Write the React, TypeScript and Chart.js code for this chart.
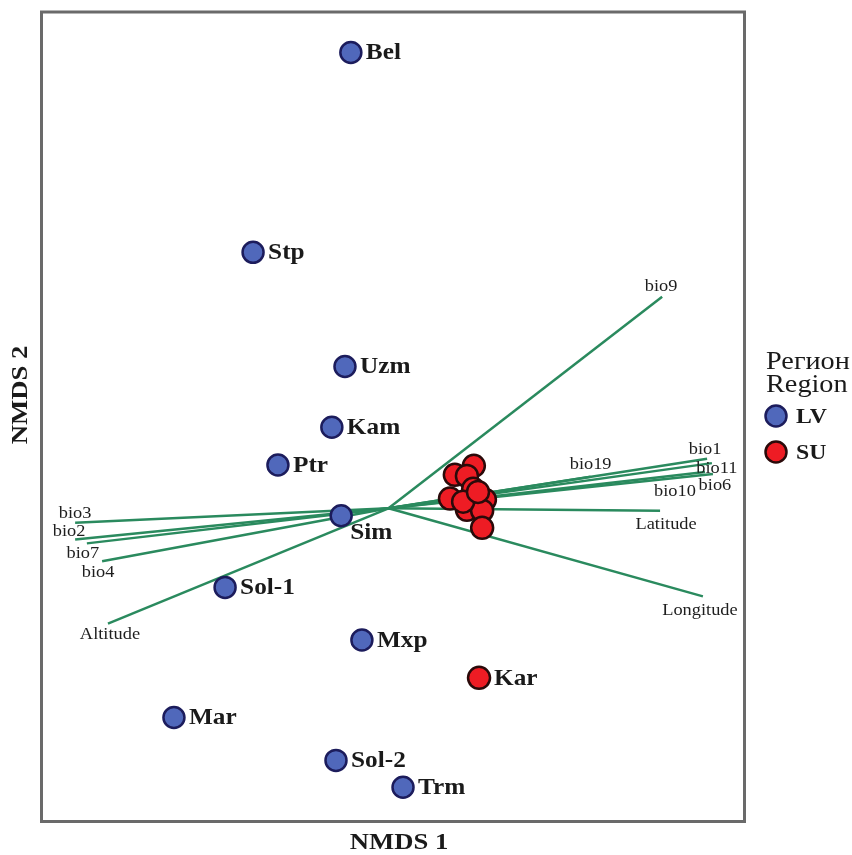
import React, { useEffect, useRef } from "react";
import { Chart, registerables } from "chart.js";

Chart.register(...registerables);

// Sites (NMDS scores)
const lvNames = ["Bel", "Stp", "Uzm", "Kam", "Ptr", "Sim", "Sol-1", "Mxp", "Mar", "Sol-2", "Trm"];
const lvX = [-0.109, -0.392, -0.126, -0.164, -0.32, -0.137, -0.473, -0.077, -0.621, -0.152, 0.042];
const lvY = [1.17, 0.657, 0.364, 0.208, 0.111, -0.019, -0.203, -0.338, -0.537, -0.647, -0.716];

const suNames = ["", "", "", "", "", "", "", "", "", "", "", "Kar"];
const suX = [0.192, 0.247, 0.227, 0.245, 0.178, 0.279, 0.227, 0.271, 0.271, 0.216, 0.259, 0.262];
const suY = [0.086, 0.109, 0.083, 0.05, 0.025, 0.022, -0.004, -0.006, -0.05, 0.017, 0.042, -0.435];

// Environmental vectors (envfit)
const vecNames = ["bio9", "bio1", "bio11", "bio6", "bio10", "bio19", "Latitude", "Longitude", "bio3", "bio2", "bio7", "bio4", "Altitude"];
const vecX = [0.792, 0.922, 0.936, 0.939, 0.916, 0.585, 0.786, 0.91, -0.907, -0.907, -0.873, -0.829, -0.812];
const vecY = [0.543, 0.127, 0.116, 0.088, 0.093, 0.081, -0.006, -0.226, -0.037, -0.08, -0.09, -0.136, -0.296];

const legendTitle = ["Регион", "Region"];
const groupNames = ["LV", "SU"];

// label placement offsets (px), styling only
const vecLabelOffset: Record<string, [number, number]> = {
  bio9: [-1, -10], bio1: [-2, -9], bio11: [5, 5], bio6: [2, 12], bio10: [-30, 19], bio19: [0, -12],
  Latitude: [6, 14], Longitude: [-3, 14], bio3: [0, -9], bio2: [-6, -8], bio7: [-4, 10], bio4: [-4, 11], Altitude: [2, 11],
};
const siteLabelOffset: Record<string, [number, number]> = { Sim: [9, 17] };

const BLUE = "#5068bb";
const BLUE_B = "#1c1c5c";
const RED = "#ee1c24";
const RED_B = "#2a0a0a";
const GREEN = "#2a8a5e";
const SERIF = "'Liberation Serif', 'Times New Roman', serif";

function text(ctx: CanvasRenderingContext2D, s: string, x: number, y: number, sx: number) {
  ctx.save();
  ctx.translate(x, y);
  ctx.scale(sx, 1);
  ctx.fillText(s, 0, 0);
  ctx.restore();
}

export default function App() {
  const ref = useRef<HTMLCanvasElement>(null);
  useEffect(() => {
    if (!ref.current) return;
    const vecDatasets = vecNames.map((n, i) => ({
      type: "line" as const,
      label: n,
      data: [{ x: 0, y: 0 }, { x: vecX[i], y: vecY[i] }],
      borderColor: GREEN,
      borderWidth: 2.5,
      pointRadius: 0,
      showLine: true,
      order: 3,
    }));
    const lvData = lvX.map((x, i) => ({ x, y: lvY[i] }));
    const suData = suX.map((x, i) => ({ x, y: suY[i] }));

    const overlay = {
      id: "overlay",
      beforeDraw(chart: any) {
        const { ctx } = chart;
        ctx.save();
        ctx.fillStyle = "#fff";
        ctx.fillRect(0, 0, chart.width, chart.height);
        ctx.restore();
      },
      afterDraw(chart: any) {
        const { ctx, chartArea: a, scales } = chart;
        const xs = scales.x, ys = scales.y;
        ctx.save();
        // frame
        ctx.strokeStyle = "#6a6a6a";
        ctx.lineWidth = 3;
        ctx.strokeRect(a.left - 1.5, a.top - 1.5, a.right - a.left + 3, a.bottom - a.top + 3);
        // vector labels
        ctx.fillStyle = "#1e1e1e";
        ctx.font = `17px ${SERIF}`;
        ctx.textAlign = "center";
        ctx.textBaseline = "middle";
        vecNames.forEach((n, i) => {
          const o = vecLabelOffset[n] || [0, 0];
          text(ctx, n, xs.getPixelForValue(vecX[i]) + o[0], ys.getPixelForValue(vecY[i]) + o[1], 1.08);
        });
        // site labels
        ctx.font = `bold 23px ${SERIF}`;
        ctx.textAlign = "left";
        ctx.fillStyle = "#1a1a1a";
        const drawSite = (n: string, x: number, y: number) => {
          if (!n) return;
          const o = siteLabelOffset[n] || [15, 1];
          text(ctx, n, xs.getPixelForValue(x) + o[0], ys.getPixelForValue(y) + o[1], 1.1);
        };
        lvNames.forEach((n, i) => drawSite(n, lvX[i], lvY[i]));
        suNames.forEach((n, i) => drawSite(n, suX[i], suY[i]));
        // axis titles
        ctx.font = `bold 24px ${SERIF}`;
        ctx.textAlign = "center";
        text(ctx, "NMDS 1", 399, a.bottom + 23, 1.11);
        ctx.save();
        ctx.translate(21, 395);
        ctx.rotate(-Math.PI / 2);
        text(ctx, "NMDS 2", 0, 0, 1.11);
        ctx.restore();
        // legend
        const lx = a.right + 23;
        ctx.textAlign = "left";
        ctx.font = `25px ${SERIF}`;
        text(ctx, legendTitle[0], lx, 362, 1.13);
        text(ctx, legendTitle[1], lx, 385, 1.13);
        const cols = [[BLUE, BLUE_B], [RED, RED_B]];
        groupNames.forEach((g, i) => {
          const cy = 416 + i * 36;
          ctx.beginPath();
          ctx.arc(lx + 10, cy, 10.5, 0, Math.PI * 2);
          ctx.fillStyle = cols[i][0];
          ctx.fill();
          ctx.lineWidth = 2.5;
          ctx.strokeStyle = cols[i][1];
          ctx.stroke();
          ctx.fillStyle = "#1a1a1a";
          ctx.font = `bold 22px ${SERIF}`;
          text(ctx, g, lx + 30, cy + 1, 1.08);
        });
        ctx.restore();
      },
    };

    const chart = new Chart(ref.current, {
      type: "scatter",
      data: {
        datasets: [
          ...vecDatasets,
          {
            label: groupNames[0],
            data: lvData,
            backgroundColor: BLUE,
            borderColor: BLUE_B,
            borderWidth: 2.5,
            pointRadius: 10.5,
            order: 1,
          },
          {
            label: groupNames[1],
            data: suData,
            backgroundColor: RED,
            borderColor: RED_B,
            borderWidth: 2.5,
            pointRadius: 11,
            order: 1,
          },
        ] as any,
      },
      options: {
        responsive: false,
        animation: false,
        layout: { padding: { left: 43, right: 109, top: 9, bottom: 35 } },
        plugins: { legend: { display: false }, tooltip: { enabled: false } },
        scales: {
          x: { type: "linear", min: -1, max: 1.026, display: false },
          y: { type: "linear", min: -0.8, max: 1.27, display: false },
        },
      },
      plugins: [overlay],
    });
    return () => chart.destroy();
  }, []);
  return (
    <div style={{ position: "absolute", left: 0, top: 0 }}>
      <canvas ref={ref} width={852} height={855} />
    </div>
  );
}
